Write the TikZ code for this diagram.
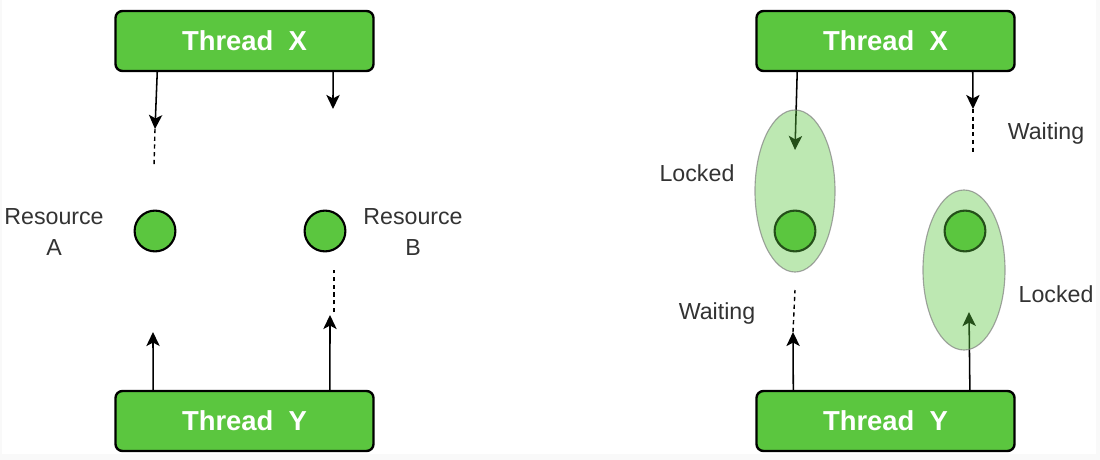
\documentclass[tikz,border=0pt]{standalone}
\usepackage{fontspec}
\setmainfont{Liberation Sans}
\usetikzlibrary{arrows.meta,calc,shapes.geometric}
\definecolor{threadgreen}{HTML}{5BC63F}
\definecolor{textgray}{HTML}{333333}
\tikzset{
  thread/.style={rectangle, draw=black, line width=1.7pt, fill=threadgreen, rounded corners=5pt,
                 minimum width=6.45cm, minimum height=1.5cm, text=white,
                 font=\fontsize{19.5}{22}\selectfont\bfseries},
  res/.style={circle, draw=black, line width=1.5pt, fill=threadgreen, minimum size=1.02cm, inner sep=0pt},
  lock/.style={ellipse, draw=gray, draw opacity=0.7, line width=0.8pt, fill=threadgreen,
               fill opacity=0.4, inner sep=0pt},
  arrow/.style={-{Stealth[length=10pt,width=9.5pt,inset=2.5pt]}, line width=1.1pt},
  wait/.style={dash pattern=on 3pt off 2.5pt, line width=1pt},
  lbl/.style={font=\fontsize{16.5}{22}\selectfont, text=textgray, align=center},
}
\begin{document}
\begin{tikzpicture}[x=0.025cm, y=-0.025cm]
\useasboundingbox (0,0) rectangle (1100,460);
\fill[gray!5] (0,0) rectangle (1100,460);
\fill[white] (2,0) rectangle (1096,454);

%Left: nodes
\node[thread] (lx) at (244.5,41) {Thread~~X};
\node[thread] (ly) at (244.5,421) {Thread~~Y};
\node[res] (resA) at (155,231) {};
\node[res] (resB) at (325,231) {};
\node[lbl] (labA) at (54,232) {Resource\\A};
\node[lbl] (labB) at (413,232) {Resource\\B};
\coordinate (a1) at (155,129);
\coordinate (d1) at (154,166);
\coordinate (b1) at (333,109);
\coordinate (a2) at (153,332);
\coordinate (b2) at (330,315);
\coordinate (d2a) at (334,312);
\coordinate (d2b) at (334,270);

%Left: lines
\draw[arrow] ($(lx.south west)!0.165!(lx.south east)$) -- (a1);
\draw[wait] (a1) -- (d1);
\draw[arrow] ($(lx.south west)!0.84!(lx.south east)$) -- (b1);
\draw[arrow] ($(ly.north west)!0.149!(ly.north east)$) -- (a2);
\draw[arrow] ($(ly.north west)!0.828!(ly.north east)$) -- (b2);
\draw[wait] (d2a) -- (d2b);

%Right: nodes
\node[thread] (rx) at (885.5,41) {Thread~~X};
\node[thread] (ry) at (885.5,421) {Thread~~Y};
\node[res] (resC) at (795,231) {};
\node[res] (resD) at (965,231) {};
\node[lbl] (lockedA) at (697,173) {Locked};
\node[lbl] (waitA) at (717,313) {Waiting};
\node[lbl] (waitB) at (1046,133) {Waiting};
\node[lbl] (lockedB) at (1056,294) {Locked};
\coordinate (c1) at (795,150);
\coordinate (e1) at (973,109);
\coordinate (f1) at (973,152);
\coordinate (c2) at (793,332);
\coordinate (g2) at (795,290);
\coordinate (e2) at (969,312);

%Right: lines
\draw[arrow] ($(rx.south west)!0.161!(rx.south east)$) -- (c1);
\draw[arrow] ($(rx.south west)!0.835!(rx.south east)$) -- (e1);
\draw[wait] (e1) -- (f1);
\draw[arrow] ($(ry.north west)!0.146!(ry.north east)$) -- (c2);
\draw[wait] (c2) -- (g2);
\draw[arrow] ($(ry.north west)!0.824!(ry.north east)$) -- (e2);

%Locks on top
\node[lock, minimum width=2cm, minimum height=4.05cm] (lockA) at (795,191) {};
\node[lock, minimum width=2.05cm, minimum height=4cm] (lockB) at (964,270) {};
\end{tikzpicture}
\end{document}
